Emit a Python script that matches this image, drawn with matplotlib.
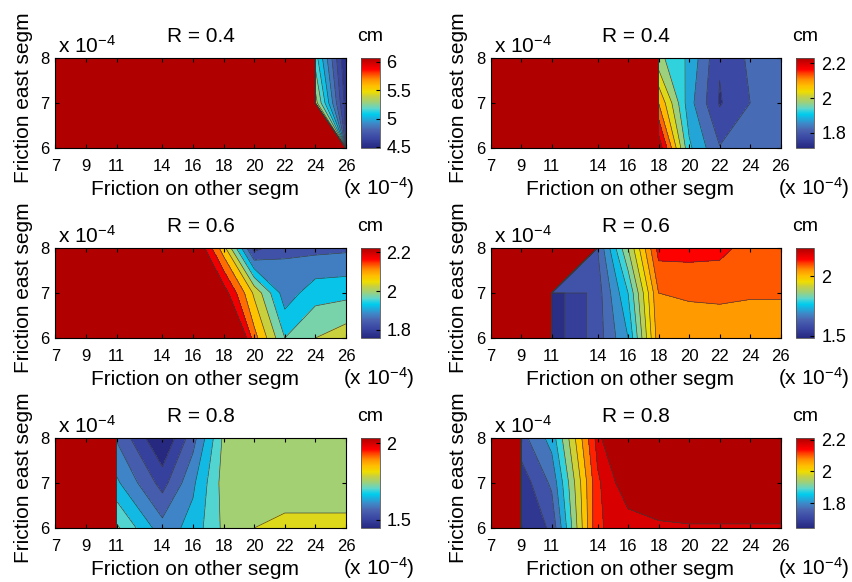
import numpy as np
import matplotlib
matplotlib.use('Agg')
import matplotlib.pyplot as plt
from matplotlib.colors import LinearSegmentedColormap, Normalize
from matplotlib.cm import ScalarMappable

plt.rcParams['font.family'] = ['Liberation Sans', 'DejaVu Sans']
plt.rcParams['mathtext.fontset'] = 'custom'
plt.rcParams['mathtext.rm'] = 'Liberation Sans'
plt.rcParams['mathtext.it'] = 'Liberation Sans:italic'

# grid (x 1e-4)
fric_other = [7, 9, 11, 14, 16, 18, 20, 22, 24, 26]
fric_east = [6, 7, 8]
xticks = [7, 9, 11, 14, 16, 18, 20, 22, 24, 26]

S = 100.0  # saturated, far above colour range (shown dark red)

# rows: east = 6, 7, 8
r04_a = [[S, S, S, S, S, S, S, S, S, 4.50],
         [S, S, S, S, S, S, S, S, 5.35, 4.55],
         [S, S, S, S, S, S, S, S, 5.15, 4.50]]
r04_b = [[S, S, S, S, S, 2.24, 1.91, 1.803, 1.82, 1.83],
         [S, S, S, S, S, 2.10, 1.87, 1.745, 1.80, 1.82],
         [S, S, S, S, S, 1.965, 1.89, 1.755, 1.81, 1.82]]
r06_a = [[S, S, S, S, S, 2.45, 2.12, 1.95, 2.00, 2.03],
         [S, S, S, S, S, 2.23, 2.04, 1.872, 1.93, 1.935],
         [S, S, S, S, 2.28, 2.07, 1.78, 1.843, 1.835, 1.84]]
r06_b = [[S, S, 1.49, 1.595, 1.72, 2.05, 2.04, 2.04, 2.04, 2.04],
         [S, S, 1.49, 1.595, 1.77, 2.07, 2.077, 2.08, 2.075, 2.075],
         [S, S, S, 1.62, 1.87, 2.14, 2.14, 2.135, 2.10, 2.10]]
r08_a = [[S, S, 1.735, 1.595, 1.645, 1.735, 1.775, 1.785, 1.785, 1.785],
         [S, S, 1.635, 1.505, 1.615, 1.745, 1.745, 1.755, 1.755, 1.755],
         [S, S, 1.57, 1.421, 1.555, 1.735, 1.745, 1.745, 1.745, 1.745]]
r08_b = [[S, 1.65, 1.71, 2.145, 2.17, 2.18, 2.19, 2.19, 2.19, 2.19],
         [S, 1.67, 1.76, 2.14, 2.24, 2.30, 2.30, 2.30, 2.30, 2.30],
         [S, 1.73, 1.82, 2.17, 2.40, S, S, S, S, S]]

titles = ['R = 0.4', 'R = 0.4', 'R = 0.6', 'R = 0.6', 'R = 0.8', 'R = 0.8']
clims = [(4.48, 6.07), (1.714, 2.229), (1.757, 2.223),
         (1.48, 2.237), (1.446, 2.033), (1.642, 2.211)]
steps = [0.1, 0.05, 0.05, 0.05, 0.05, 0.05]
lev_lo = [4.4, 1.70, 1.75, 1.47, 1.375, 1.60]
lev_hi = [6.0, 2.20, 2.20, 2.22, 1.975, 2.20]
cticks = [[4.5, 5, 5.5, 6], [1.8, 2, 2.2], [1.8, 2, 2.2],
          [1.5, 2], [1.5, 2], [1.8, 2, 2.2]]
data = [r04_a, r04_b, r06_a, r06_b, r08_a, r08_b]

cmap = LinearSegmentedColormap.from_list('mjet', [
    (0.0, '#26287f'), (0.11, '#3a47a3'), (0.2, '#4a63b0'), (0.27, '#3e88c8'),
    (0.375, '#00cdee'), (0.44, '#5ed6cc'), (0.50, '#98d082'), (0.575, '#c8d040'),
    (0.625, '#eedd00'), (0.69, '#ffbe00'), (0.75, '#ff9a00'), (0.81, '#ff5a00'),
    (0.875, '#ff0000'), (1.0, '#b00000')])

W, H = 852, 582
fig = plt.figure(figsize=(W / 100, H / 100), dpi=100)


def box(l, t, r, b):
    return [l / W, 1 - b / H, (r - l) / W, (b - t) / H]


rows = [(58, 148), (248, 338), (438, 528)]
cols = [(55.3, 346, 360.7, 379.5), (490.7, 780.7, 795.7, 814.3)]

X, Y = np.meshgrid(fric_other, fric_east)

for i in range(6):
    t, b = rows[i // 2]
    l, r, cl, cr = cols[i % 2]
    ax = fig.add_axes(box(l, t, r, b))
    cax = fig.add_axes(box(cl, t, cr, b))
    Z = np.array(data[i])
    norm = Normalize(*clims[i])
    n = int(round((lev_hi[i] - lev_lo[i]) / steps[i]))
    levels = list(np.round(np.linspace(lev_lo[i], lev_hi[i], n + 1), 3)) + [S + 1]
    ax.contourf(X, Y, Z, levels=levels, cmap=cmap, norm=norm)
    ax.contour(X, Y, Z, levels=levels[:-1], colors='#3a3a3a', linewidths=0.45)
    ax.set_xlim(7, 26)
    ax.set_ylim(6, 8)
    ax.set_xticks(xticks)
    ax.set_yticks([6, 7, 8])
    ax.tick_params(direction='in', length=3, top=True, right=True, labelsize=12)
    ax.tick_params(axis='x', pad=8)
    ax.tick_params(axis='y', pad=4)
    for s in ax.spines.values():
        s.set_linewidth(0.8)
    ax.set_title(titles[i], fontsize=15, pad=11.5)
    ax.text(0.01, 1.055, r'x 10$^{-4}$', transform=ax.transAxes, fontsize=15,
            ha='left', va='baseline')
    ax.text(0.479, -0.525, 'Friction on other segm', transform=ax.transAxes,
            fontsize=15, ha='center', va='baseline')
    ax.text(0.989, -0.525, r'(x 10$^{-4}$)', transform=ax.transAxes,
            fontsize=15, ha='left', va='baseline')
    ax.text(-0.11, 0.555, 'Friction east segm', transform=ax.transAxes,
            fontsize=15, rotation=90, ha='center', va='center')

    cb = fig.colorbar(ScalarMappable(norm=norm, cmap=cmap), cax=cax)
    cb.set_ticks(cticks[i])
    cb.set_ticklabels([f'{v:g}' for v in cticks[i]])
    cax.tick_params(direction='in', length=3, labelsize=13, pad=5)
    cb.outline.set_linewidth(0.6)
    cb.outline.set_edgecolor('#555555')
    cax.set_title('cm', fontsize=14, pad=12)

fig.savefig('out.png', dpi=100)
